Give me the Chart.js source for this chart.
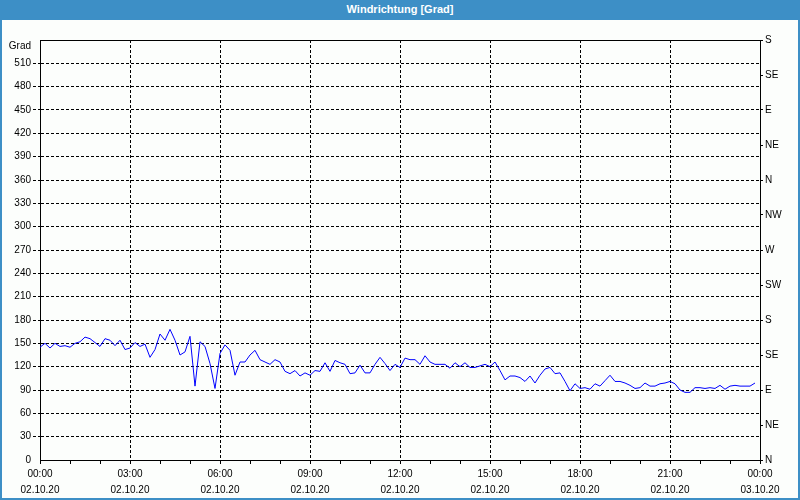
<!DOCTYPE html>
<html>
<head>
<meta charset="utf-8">
<script src="https://cdn.jsdelivr.net/npm/chart.js@4.4.1/dist/chart.umd.min.js"></script>
<style>
  html, body { margin: 0; padding: 0; background: #fcfefc; }
  #wrap { position: relative; width: 800px; height: 500px; overflow: hidden; background: #fcfefc; }
  #c { position: absolute; left: 0; top: 0; }
  #frame { position: absolute; left: 0; top: 0; width: 800px; height: 500px; box-sizing: border-box;
           border: 2px solid #3d8fc6; pointer-events: none; }
  #title { position: absolute; left: 0; top: 0; width: 800px; height: 20px; background: #3d8fc6;
           color: #fff; font: bold 11px "Liberation Sans", Arial, sans-serif; text-align: center; line-height: 19px; }
</style>
</head>
<body>
<div id="wrap">
  <canvas id="c" width="800" height="500"></canvas>
  <div id="frame"></div>
  <div id="title">Windrichtung [Grad]</div>
</div>
<script>
// Wind direction in degrees, one reading every 10 minutes from 02.10.20 00:00
const windDir = [
  145,150,144,150,146,147,145,150,152,158,156,151,146,156,154,147,154,142,
  144,151,146,149,132,142,162,154,168,154,135,139,159,95,152,146,124,92,
  137,148,141,109,126,126,135,141,129,126,123,129,126,114,111,115,108,112,
  109,115,114,125,114,128,125,123,111,112,122,112,112,123,132,124,115,123,
  119,131,129,129,123,134,126,123,123,123,118,125,120,125,119,119,121,123,
  120,126,115,103,108,108,106,101,108,99,109,117,119,111,112,101,89,98,
  92,93,91,98,95,102,109,101,101,99,96,92,93,99,95,95,98,99,
  101,98,90,87,87,93,93,92,93,92,96,91,95,96,95,95,95,99
];
const stepMinutes = 10;
const timeLabels = ['00:00','03:00','06:00','09:00','12:00','15:00','18:00','21:00','00:00'];
const dateLabels = ['02.10.20','02.10.20','02.10.20','02.10.20','02.10.20','02.10.20','02.10.20','02.10.20','03.10.20'];
const compassLabels = ['N','NE','E','SE','S','SW','W','NW','N','NE','E','SE','S'];
const leftTopLabel = 'Grad';

const points = windDir.map((v, i) => ({ x: i * stepMinutes, y: v }));
const FONT = { family: '"Liberation Sans", Arial, sans-serif', size: 10 };
const DASH = [3, 2];

new Chart(document.getElementById('c'), {
  type: 'line',
  data: {
    datasets: [{
      data: points,
      borderColor: '#0000ff',
      borderWidth: 1,
      pointRadius: 0,
      tension: 0,
      fill: false
    }]
  },
  options: {
    responsive: false,
    animation: false,
    devicePixelRatio: 1,
    layout: { padding: { top: 40, left: 0, right: 0, bottom: 0 } },
    plugins: { legend: { display: false }, tooltip: { enabled: false }, title: { display: false } },
    scales: {
      x: {
        type: 'linear',
        min: 0, max: 1440,
        afterFit: s => { s.height = 40; },
        ticks: {
          stepSize: 60, autoSkip: false, maxRotation: 0, padding: 2,
          color: '#000', font: { ...FONT, lineHeight: 1.6 },
          callback: v => {
            if (v % 180 !== 0) return '';
            const k = v / 180;
            return [timeLabels[k], dateLabels[k]];
          }
        },
        grid: {
          color: c => (c.tick && c.tick.value % 180 === 0 && c.tick.value > 0 && c.tick.value < 1440) ? '#000' : 'rgba(0,0,0,0)',
          tickColor: '#000', tickLength: 4, lineWidth: 1
        },
        border: { display: true, color: '#000', width: 1, dash: DASH }
      },
      y: {
        position: 'left',
        min: 0, max: 540,
        afterFit: s => { s.width = 40; },
        ticks: {
          stepSize: 30, autoSkip: false, padding: 2, color: '#000', font: { ...FONT, lineHeight: 1.2 },
          callback: v => v === 540 ? ['', leftTopLabel] : String(v)
        },
        grid: {
          color: c => (c.tick && c.tick.value > 0) ? '#000' : 'rgba(0,0,0,0)',
          tickColor: c => (c.tick && c.tick.value > 0 && c.tick.value < 540) ? '#000' : 'rgba(0,0,0,0)',
          tickLength: 7, tickBorderDash: DASH, lineWidth: 1
        },
        border: {
          display: true, color: '#000', width: 1,
          dash: c => (c.tick && c.tick.value === 540) ? [] : DASH
        }
      },
      y2: {
        position: 'right',
        min: 0, max: 540,
        afterFit: s => { s.width = 40; },
        ticks: {
          stepSize: 45, autoSkip: false, padding: 2, color: '#000', font: FONT,
          callback: v => compassLabels[Math.round(v / 45)]
        },
        grid: { drawOnChartArea: false, tickColor: '#000', tickLength: 3 },
        border: { display: true, color: '#000', width: 1 }
      }
    }
  }
});
</script>
</body>
</html>
